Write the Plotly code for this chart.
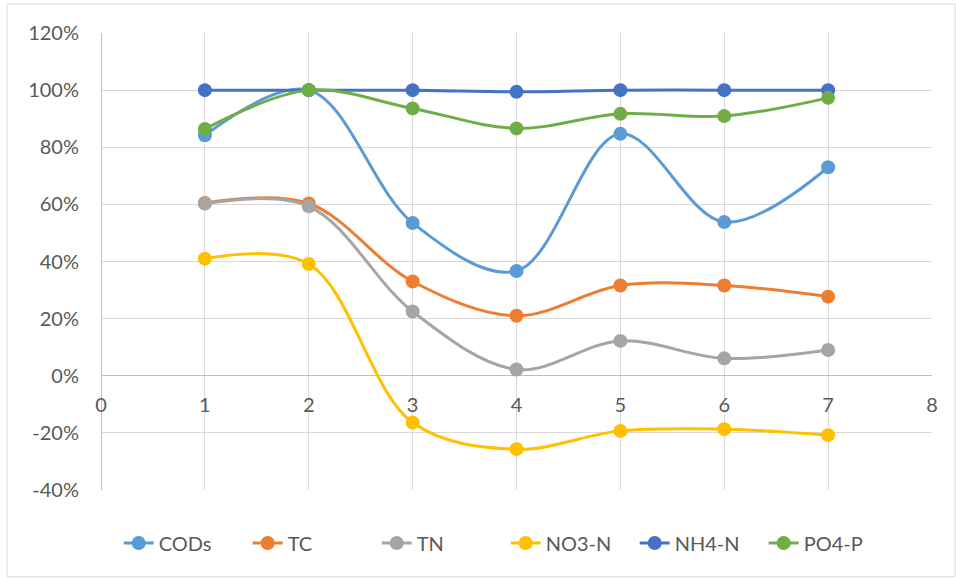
import plotly.graph_objects as go

x_vals = [1, 2, 3, 4, 5, 6, 7]
cods = [0.842, 1.00, 0.535, 0.367, 0.847, 0.538, 0.730]
tc = [0.605, 0.603, 0.330, 0.210, 0.316, 0.316, 0.277]
tn = [0.603, 0.593, 0.225, 0.022, 0.122, 0.061, 0.090]
no3n = [0.410, 0.391, -0.164, -0.257, -0.193, -0.187, -0.208]
nh4n = [1.00, 1.00, 1.00, 0.994, 1.00, 1.00, 1.00]
po4p = [0.864, 1.00, 0.936, 0.866, 0.917, 0.909, 0.973]

y_tickvals = [-0.4, -0.2, 0.0, 0.2, 0.4, 0.6, 0.8, 1.0, 1.2]
y_ticktext = ["-40%", "-20%", "0%", "20%", "40%", "60%", "80%", "100%", "120%"]
x_tickvals = [0, 1, 2, 3, 4, 5, 6, 7, 8]

series = [
    ("CODs", cods, "#5B9BD5"),
    ("TC", tc, "#ED7D31"),
    ("TN", tn, "#A5A5A5"),
    ("NO3-N", no3n, "#FFC000"),
    ("NH4-N", nh4n, "#4472C4"),
    ("PO4-P", po4p, "#70AD47"),
]

FONT = "Lato"
FS = 20
fig = go.Figure()
for name, vals, color in series:
    fig.add_trace(go.Scatter(
        x=x_vals, y=vals, name=name, mode="lines+markers",
        line=dict(color=color, width=3, shape="spline", smoothing=1.0),
        marker=dict(color=color, size=14),
    ))

fig.update_layout(
    width=956, height=578,
    margin=dict(l=101, r=24, t=33, b=88),
    plot_bgcolor="white", paper_bgcolor="white",
    font=dict(family=FONT, size=FS, color="#595959"),
    showlegend=True,
    legend=dict(orientation="h", x=0.487, xanchor="center", y=-0.116, yanchor="middle",
                entrywidth=84, entrywidthmode="pixels",
                font=dict(family=FONT, size=FS, color="#595959")),
    xaxis=dict(range=[0, 8], tickmode="array", tickvals=x_tickvals, showgrid=True,
               gridcolor="#D9D9D9", gridwidth=1,
               zeroline=True, zerolinecolor="#BFBFBF", zerolinewidth=1,
               anchor="free", position=0.25, showline=False, ticks="", ticklabelstandoff=15,
               tickfont=dict(family=FONT, size=FS, color="#595959")),
    yaxis=dict(range=[-0.4, 1.2], tickmode="array", tickvals=y_tickvals, ticktext=y_ticktext,
               showgrid=True, gridcolor="#D9D9D9", gridwidth=1, zeroline=True, zerolinecolor="#BFBFBF",
               zerolinewidth=1, showline=False, ticks="", ticklabelstandoff=21,
               tickfont=dict(family=FONT, size=FS, color="#595959")),
    shapes=[dict(type="rect", xref="paper", yref="paper", x0=-0.1131, x1=1.0277, y0=-0.190, y1=1.0635,
                 line=dict(color="#D9D9D9", width=1), fillcolor="rgba(0,0,0,0)", layer="below")],
)

fig.write_html("out.html", config={"displayModeBar": False})
with open("out.html", "r", encoding="utf-8") as f:
    html = f.read()
html = html.replace("<head>", "<head><style>html,body{margin:0;padding:0;overflow:hidden;}</style>", 1)
with open("out.html", "w", encoding="utf-8") as f:
    f.write(html)
